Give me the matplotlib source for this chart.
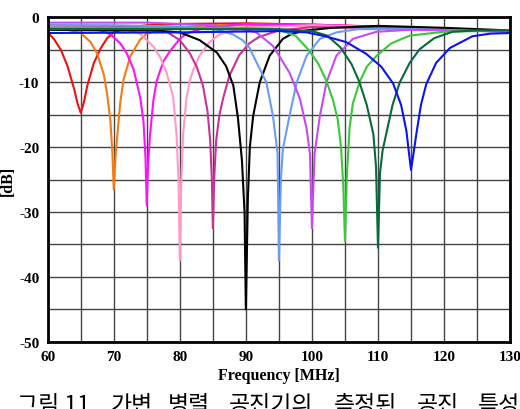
import matplotlib
matplotlib.use('Agg')
import matplotlib.pyplot as plt

f_65 = [60, 61, 62, 63, 64, 64.5, 65, 65.5, 66, 67, 68, 69, 70, 72, 75, 80, 90, 100, 110, 120, 130]
db_65 = [-2.3, -3.4, -5.0, -7.5, -11.0, -13.2, -14.7, -13.0, -10.5, -7.0, -4.8, -3.2, -2.3, -1.6, -1.2, -1.0, -0.9, -1.1, -1.4, -1.8, -2.1]

f_70 = [60, 63, 65, 66.5, 67.5, 68.5, 69, 69.5, 69.8, 70, 70.3, 70.6, 71, 71.5, 72.5, 74, 75, 78, 85, 100, 115, 130]
db_70 = [-1.6, -1.9, -2.4, -3.8, -5.6, -8.8, -11.8, -16.0, -21.0, -26.5, -21.0, -17.5, -13.0, -9.5, -6.0, -3.4, -2.5, -1.6, -1.2, -1.3, -1.7, -2.1]

f_75 = [60, 65, 68, 69.5, 71, 72, 73, 74, 74.5, 74.8, 75, 75.2, 75.5, 76, 76.5, 77.5, 78.5, 80, 81, 84, 90, 100, 115, 130]
db_75 = [-1.4, -1.6, -2.0, -2.6, -4.0, -5.6, -8.0, -12.3, -16.0, -21.5, -29.0, -22.5, -18.0, -12.8, -9.8, -6.8, -5.2, -3.3, -2.5, -1.5, -1.0, -1.1, -1.6, -2.1]

f_80 = [60, 68, 72, 74, 76, 77, 78, 79, 79.5, 79.8, 80, 80.2, 80.5, 81, 81.5, 82, 83, 84.5, 86, 90, 100, 115, 130]
db_80 = [-1.3, -1.5, -1.9, -2.5, -4.5, -6.1, -8.5, -12.3, -18.0, -25.0, -37.5, -26.0, -18.0, -12.5, -9.8, -8.2, -5.9, -3.8, -2.6, -1.6, -1.2, -1.6, -2.1]

f_85 = [60, 70, 75, 78, 80, 81.5, 82.6, 83.5, 84.2, 84.6, 84.85, 85, 85.2, 85.5, 86, 86.6, 87.5, 89, 90.5, 92, 95, 100, 115, 130]
db_85 = [-1.2, -1.3, -1.6, -2.2, -3.5, -5.5, -7.7, -10.5, -14.5, -19.0, -25.0, -32.5, -25.0, -19.0, -15.0, -12.3, -9.0, -5.8, -4.0, -3.0, -2.0, -1.5, -1.7, -2.1]

f_90 = [60, 70, 76, 80, 83, 85.6, 87, 88.1, 88.8, 89.4, 89.8, 90, 90.3, 90.6, 91.1, 92.1, 93.6, 95.6, 97, 99.2, 103, 110, 120, 130]
db_90 = [-1.9, -2.0, -2.0, -2.3, -3.5, -5.4, -7.5, -10.5, -15.5, -22.0, -30.0, -45.0, -28.0, -20.0, -15.2, -10.0, -5.9, -3.3, -2.5, -2.0, -1.6, -1.3, -1.6, -2.0]

f_95 = [60, 70, 80, 85, 88, 89.5, 90.5, 91.6, 93.1, 94.1, 94.8, 95, 95.3, 95.6, 96.6, 97.7, 99.2, 101.2, 103.7, 107, 115, 130]
db_95 = [-1.2, -1.2, -1.4, -1.7, -2.6, -3.5, -4.6, -6.9, -10.0, -15.2, -21.0, -37.5, -25.0, -20.3, -15.2, -10.0, -5.9, -3.3, -2.3, -1.8, -1.8, -2.2]

f_100 = [60, 75, 85, 89, 91.6, 94.1, 96.6, 98.2, 99.2, 99.7, 100, 100.4, 101.2, 102.2, 103.7, 106.2, 109.8, 115, 130]
db_100 = [-0.8, -0.8, -1.2, -1.7, -2.3, -4.4, -8.5, -12.6, -17.2, -21.0, -32.5, -21.0, -15.2, -10.0, -5.9, -3.3, -2.2, -1.9, -2.2]

f_105 = [60, 80, 90, 95, 97.5, 99.5, 101, 102.2, 103.2, 103.9, 104.4, 104.75, 105, 105.3, 105.7, 106.2, 107.2, 108.3, 109.8, 112, 114.8, 120, 130]
db_105 = [-1.6, -1.6, -1.6, -1.9, -2.8, -5.0, -7.2, -9.8, -12.8, -15.7, -20.0, -26.0, -34.5, -24.0, -17.0, -13.2, -10.0, -7.6, -5.9, -4.0, -2.8, -2.2, -2.0]

f_110 = [60, 80, 95, 100, 102.3, 104.3, 106, 107.2, 108.3, 109.3, 109.7, 110, 110.3, 110.7, 111.3, 112.2, 113.3, 114.8, 116.3, 118.5, 121.3, 125, 130]
db_110 = [-1.8, -1.8, -1.8, -2.1, -2.8, -4.6, -7.2, -10.0, -13.5, -18.0, -23.0, -35.5, -24.0, -20.5, -17.7, -13.5, -10.0, -7.0, -4.9, -3.2, -2.2, -2.0, -2.0]

f_115 = [60, 80, 95, 99.2, 102, 105.2, 108.2, 110.5, 112.3, 113.5, 114.3, 114.7, 115, 115.3, 115.8, 116.5, 117.3, 118.8, 120.9, 124.3, 127, 130]
db_115 = [-2.4, -2.3, -2.1, -2.3, -2.9, -3.8, -5.6, -7.6, -10.2, -13.5, -17.5, -21.0, -23.5, -21.5, -18.0, -13.5, -10.3, -7.0, -4.7, -2.9, -2.5, -2.4]

curves = [(f_65, db_65, '#ee1111'), (f_70, db_70, '#f57a14'), (f_75, db_75, '#ff10ff'),
          (f_80, db_80, '#ff99cc'), (f_85, db_85, '#c8329a'), (f_90, db_90, '#000000'),
          (f_95, db_95, '#6a9cf7'), (f_100, db_100, '#c84af0'), (f_105, db_105, '#38c838'),
          (f_110, db_110, '#08693a'), (f_115, db_115, '#0a14f0')]

x_ticks = [60, 70, 80, 90, 100, 110, 120, 130]
y_ticks = [0, -10, -20, -30, -40, -50]

# caption words and where each one starts (fraction of figure width)
caption_words = ['그림 11.', '가변', '병렬', '공진기의', '측정된', '공진', '특성']
caption_x = [0.033, 0.212, 0.323, 0.440, 0.642, 0.802, 0.919]

fig = plt.figure(figsize=(5.2, 4.1), dpi=100)
ax = fig.add_axes([0.0917, 0.164, 0.8893, 0.791])

for f, db, c in curves:
    ax.plot(f, db, color=c, lw=1.5, solid_joinstyle='round')

ax.set_xlim(60, 130)
ax.set_ylim(-50, 0)
ax.set_xticks(range(60, 131, 5))
ax.set_yticks(range(-50, 1, 5))
ax.set_xticklabels([str(v) if v in x_ticks else '' for v in range(60, 131, 5)])
ax.set_yticklabels([str(v) if v in y_ticks else '' for v in range(-50, 1, 5)])
ax.grid(True, color='#444444', lw=1.0)
ax.set_axisbelow(True)
ax.tick_params(length=0, pad=6)
for lab in ax.get_xticklabels() + ax.get_yticklabels():
    lab.set_fontfamily('Liberation Serif')
    lab.set_fontweight('bold')
    lab.set_fontsize(11)
for s in ax.spines.values():
    s.set_linewidth(2)
    s.set_color('black')

ax.set_xlabel('Frequency [MHz]', fontfamily='Liberation Serif', fontweight='bold', fontsize=11.5, labelpad=3)
ax.set_ylabel('[dB]', fontfamily='Liberation Serif', fontweight='bold', fontsize=11.5, labelpad=2)

for word, x in zip(caption_words, caption_x):
    fig.text(x, -0.006, word, fontfamily=['Noto Sans CJK KR', 'DejaVu Sans'],
             fontsize=16.5, ha='left', va='baseline')

fig.savefig('out.png', dpi=100)
